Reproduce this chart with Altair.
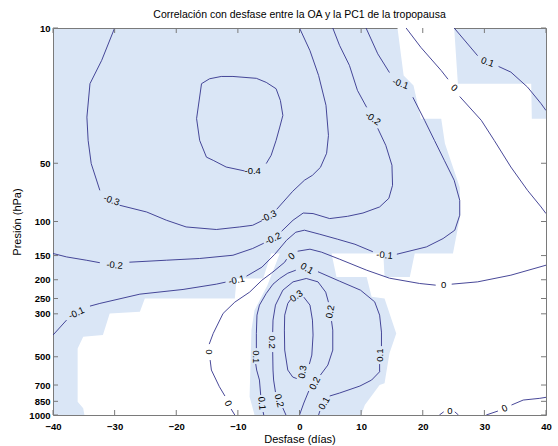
import altair as alt
import pandas as pd

# ---------------------------------------------------------------- axes
LAG_TICKS = [-40, -30, -20, -10, 0, 10, 20, 30, 40]
PRES_TICKS = [10, 50, 100, 150, 200, 250, 300, 500, 700, 850, 1000]

# ------------------------------------------- unshaded parts of the mask
# outlines as (lag in days, pressure in hPa)
WHITE_LOWER_LEFT = [(-25.1, 249.8), (-10.5, 249.8), (-10.2, 197.0), (-5.9, 197.0),
                    (-4.6, 146.3), (-3.2, 146.3), (-5.2, 213.3), (-7.3, 287.1),
                    (-7.8, 364.1), (-8.1, 804.5), (-7.3, 1000), (-34.9, 1000),
                    (-35.1, 923.5), (-36.0, 853.9), (-36.0, 452.7), (-35.1, 394.3),
                    (-31.9, 386.4), (-30.8, 298.6), (-25.9, 293.0)]
WHITE_RIGHT = [(15.9, 10), (16.9, 17.6), (18.5, 19.8), (19.7, 29.4), (23.0, 29.4),
               (23.6, 39.5), (26.0, 66.6), (26.1, 92.8), (24.9, 146.3), (18.7, 146.3),
               (17.9, 193.3), (13.8, 193.3), (13.6, 146.3), (5.2, 146.3), (6.0, 193.3),
               (10.9, 193.3), (11.7, 245.1), (13.8, 249.8), (15.7, 378.7), (14.6, 480.3),
               (13.8, 686.1), (13.0, 700.1), (10.6, 888.0), (10.0, 1000), (40, 1000),
               (40, 29.4), (37.7, 29.4), (37.6, 19.4), (25.7, 19.4), (25.1, 10)]

# ------------------------------------------------------ contour pieces
# each level: list of pieces (broken where the inline labels sit)
C_M04 = [[(-8.9, 54.8), (-11.9, 52.3), (-14.0, 48.3), (-15.1, 46.5), (-16.2, 38.1),
          (-16.7, 29.4), (-15.9, 19.4), (-14.6, 18.3), (-12.7, 17.8), (-10.8, 17.8),
          (-7.0, 18.2), (-5.4, 19.1), (-3.8, 20.6), (-3.1, 23.7), (-2.7, 28.3),
          (-3.2, 32.5), (-3.8, 38.1), (-4.6, 45.5), (-5.4, 50.2)]]
C_M03 = [[(-30.0, 10), (-32.1, 14.7), (-34.0, 19.4), (-34.5, 28.9), (-34.3, 38.1),
          (-33.8, 50.2), (-32.4, 69.0)],
         [(-29.2, 82.4), (-24.8, 89.3), (-21.6, 98.5), (-18.4, 106.7), (-13.5, 110.0),
          (-9.7, 106.7), (-7.6, 104.6), (-6.1, 99.1)],
         [(-3.7, 86.5), (-1.1, 69.8), (0.8, 61.2), (2.1, 57.7), (3.4, 52.5), (4.4, 44.4),
          (4.7, 35.9), (4.3, 25.1), (3.1, 17.6), (1.7, 13.1), (0.0, 10)]]
C_M02 = [[(-40.0, 146.3), (-37.8, 152.4), (-34.6, 158.5), (-32.4, 163.3)],
         [(-27.6, 162.3), (-21.6, 158.5), (-16.2, 155.3), (-10.8, 149.4), (-7.6, 137.9),
          (-5.8, 129.5)],
         [(-2.9, 112.3), (-1.05, 98.5), (0.6, 90.4), (2.2, 91.0), (4.9, 96.6), (7.8, 94.0),
          (10.3, 90.4), (13.0, 84.1), (14.5, 75.9), (15.1, 65.0), (15.0, 51.2),
          (14.0, 40.4), (12.7, 33.0)],
         [(10.9, 25.7), (9.4, 21.0), (8.1, 15.6), (6.5, 12.3), (5.4, 10)]]
C_M01 = [[(-40.0, 386.4), (-37.8, 323.3)],
         [(-34.0, 273.7), (-32.4, 265.1), (-25.9, 237.4), (-18.9, 224.5), (-13.5, 210.8),
          (-12.0, 205.8)],
         [(-8.6, 191.7), (-6.1, 172.2), (-4.0, 147.6), (-2.1, 125.0), (-0.6, 113.6),
          (0.8, 110.9), (3.3, 116.4), (6.2, 123.5), (9.0, 131.1), (11.9, 143.3)],
         [(15.8, 147.6), (20.6, 135.3), (23.3, 122.5), (25.2, 110.9), (26.0, 92.8),
          (26.0, 77.7), (25.1, 61.2), (23.5, 48.3), (21.9, 38.1), (20.3, 30.0),
          (18.4, 22.8)],
         [(14.6, 17.0), (12.7, 13.6), (10.8, 10)]]
C_00 = [[(17.3, 10), (19.7, 12.6), (23.0, 16.6), (24.1, 18.4)],
        [(26.0, 22.6), (29.5, 30.0), (31.6, 38.1), (34.3, 52.3), (37.0, 69.0),
         (39.2, 84.1), (40.0, 91.0)],
        [(40.0, 168.2), (34.3, 189.4), (28.9, 205.1), (24.7, 210.8)],
        [(22.1, 213.3), (19.5, 209.1), (14.6, 196.3), (10.9, 178.5), (6.5, 156.6),
         (3.6, 144.1), (1.7, 139.0), (-0.3, 142.4)],
        [(-2.1, 156.6), (-2.4, 162.3), (-4.3, 182.2), (-6.1, 201.1), (-8.1, 231.8),
         (-10.5, 261.1), (-12.4, 298.6), (-14.0, 378.7), (-14.65, 430.1)],
        [(-14.5, 520.1), (-14.3, 585.8), (-13.0, 714.3), (-12.1, 797.8)],
        [(-11.1, 931.2), (-10.5, 1000)],
        [(22.7, 1000), (23.4, 963)],
        [(25.2, 963), (25.8, 1000)],
        [(30.3, 1000), (32.2, 953.7)],
        [(34.4, 888.0), (36.3, 837.0), (39.0, 820.0), (40.0, 810.3)]]
C_01 = [[(25.1, 10), (27.3, 12.1), (28.9, 13.9)],
        [(32.3, 15.8), (34.3, 16.9), (37.0, 20.2), (39.2, 24.6), (40.0, 26.7)],
        [(-5.8, 1000), (-5.9, 965)],
        [(-6.3, 788.5), (-6.5, 659.8), (-6.95, 585.8), (-7.1, 545.6)],
        [(-7.0, 451.1), (-7.0, 378.7), (-6.9, 304.7), (-6.5, 270.5), (-5.4, 235.4),
         (-4.3, 210.8), (-3.2, 197.0), (-1.9, 185.0), (-0.6, 178.5)],
        [(3.0, 181.8), (6.5, 203.4), (9.9, 226.4), (12.2, 260.1), (13.0, 304.7),
         (13.3, 372.9), (13.3, 440.5)],
        [(13.0, 545.6), (13.0, 597.7), (11.7, 659.8), (9.8, 708.5), (6.5, 770.0),
         (4.9, 797.8)],
        [(3.3, 953.7), (3.1, 1000)]]
C_02 = [[(-2.2, 1000), (-2.7, 920.3)],
        [(-3.9, 760.9), (-4.2, 659.8), (-4.3, 585.8), (-4.35, 472.9)],
        [(-4.35, 372.9), (-4.3, 323.3), (-3.9, 270.5), (-2.7, 226.4), (-1.05, 205.1),
         (1.1, 197.0), (3.0, 205.1), (4.25, 231.8), (4.7, 261.1)],
        [(5.2, 327.1), (5.4, 364.1), (5.4, 461.8), (4.6, 552.0), (3.4, 621.6)],
        [(1.5, 751.9), (0.7, 867.2), (0.0, 1000)]]
C_03 = [[(0.7, 246.0), (1.7, 270.5), (2.1, 323.3), (2.2, 386.4), (2.0, 490.1),
         (1.6, 545.6)],
        [(-0.45, 648.1), (-1.1, 636.6), (-1.9, 585.8), (-2.4, 461.8), (-2.45, 364.1),
         (-2.4, 304.7), (-1.9, 265.1), (-1.4, 251.9)]]

# ------------------------------------------------------- inline labels
LABEL_TEXT = ["-0.4", "-0.3", "-0.3", "-0.2", "-0.2", "-0.2", "-0.1", "-0.1", "-0.1",
              "-0.1", "0", "0.1", "0", "0", "0", "0", "0.1", "0.1", "0.1", "0.1",
              "0.1", "0.2", "0.2", "0.2", "0.2", "0.3", "0.3", "0", "0"]
LABEL_LAG = [-7.6, -30.5, -5.0, -30.0, -4.3, 11.9, -36.2, -10.2, 13.8, 16.4, 25.1, 30.5,
             23.4, -1.3, -14.7, -11.6, -6.1, -7.1, 1.2, 13.1, 4.0, -3.3, -4.4, 5.0, 2.5,
             -0.5, 0.5, 24.4, 33.3]
LABEL_HPA = [55.0, 77.7, 94.0, 168.2, 122.5, 29.4, 297.5, 201.1, 149.4, 19.4, 20.4,
             15.0, 213.3, 151.1, 471.3, 870.2, 870.2, 500.1, 174.9, 490.1, 870.2, 843.7,
             420.0, 293.0, 686.1, 243.1, 599.9, 948.0, 925.6]
# text rotation of each label (degrees, clockwise)
LABEL_ROT = [0, 20, -25, 5, -25, 35, -25, -12, 5, 20, 40, 20, 0, -40, 90, 65, 85, 90,
             30, -90, -60, 75, 90, -80, -65, -35, -80, 0, -25]

# ------------------------------------------------------------- styles
FONT = "Liberation Sans"
SHADE = "#dae6f6"
LINE = "#33338c"
FRAME = "#7a7a7a"
W, H = 493, 387


def outline_rows(name, pts):
    return [{"poly": name, "i": i, "lag": a, "hpa": b} for i, (a, b) in enumerate(pts)]


def contour_rows(level, pieces):
    rows = []
    for k, piece in enumerate(pieces):
        for i, (a, b) in enumerate(piece):
            rows.append({"piece": f"{level}_{k}", "i": i, "lag": a, "hpa": b})
    return rows


white_df = pd.DataFrame(outline_rows("ll", WHITE_LOWER_LEFT) + outline_rows("r", WHITE_RIGHT))
contour_df = pd.DataFrame(
    contour_rows("m04", C_M04) + contour_rows("m03", C_M03) + contour_rows("m02", C_M02)
    + contour_rows("m01", C_M01) + contour_rows("p00", C_00) + contour_rows("p01", C_01)
    + contour_rows("p02", C_02) + contour_rows("p03", C_03))
label_df = pd.DataFrame({"txt": LABEL_TEXT, "lag": LABEL_LAG, "hpa": LABEL_HPA,
                         "rot": [r % 360 for r in LABEL_ROT]})
xtick_df = pd.DataFrame({"lag": LAG_TICKS})
ytick_df = pd.DataFrame({"hpa": PRES_TICKS})

X_SCALE = alt.Scale(domain=[-40, 40], nice=False, zero=False)
Y_SCALE = alt.Scale(type="log", domain=[10, 1000], nice=False, reverse=True)
X_AXIS = alt.Axis(values=LAG_TICKS, title="Desfase (días)", ticks=False, domain=False,
                  grid=False, labelFlush=False, labelOverlap=False, labelPadding=6,
                  labelFont=FONT, labelFontSize=9.5, labelFontWeight="bold",
                  labelColor="black", titleFont=FONT, titleFontSize=11,
                  titleFontWeight="normal", titleColor="black", titlePadding=3)
Y_AXIS = alt.Axis(values=PRES_TICKS, format="d", title="Presión (hPa)", ticks=False,
                  domain=False, grid=False, labelOverlap=False, labelPadding=3,
                  labelFont=FONT, labelFontSize=9.5, labelFontWeight="bold",
                  labelColor="black", titleFont=FONT, titleFontSize=11,
                  titleFontWeight="normal", titleColor="black", titlePadding=6)


def xe():
    return alt.X("lag:Q", scale=X_SCALE, axis=X_AXIS)


def ye():
    return alt.Y("hpa:Q", scale=Y_SCALE, axis=Y_AXIS)


white = alt.Chart(white_df).mark_line(filled=True, color="white", clip=True,
                                      strokeWidth=0).encode(
    x=xe(), y=ye(), detail="poly:N", order="i:Q")

lines = alt.Chart(contour_df).mark_line(color=LINE, strokeWidth=0.9, clip=True).encode(
    x=xe(), y=ye(), detail="piece:N", order="i:Q")

labels = alt.Chart(label_df).mark_text(font=FONT, fontSize=9.5, color="black",
                                       align="center", baseline="middle").encode(
    x=xe(), y=ye(), text="txt:N", angle=alt.Angle("rot:Q", scale=None))

tick_bottom = alt.Chart(xtick_df).mark_rule(color=FRAME, strokeWidth=1).encode(
    x=xe(), y=alt.value(H), y2=alt.value(H - 5))
tick_top = alt.Chart(xtick_df).mark_rule(color=FRAME, strokeWidth=1).encode(
    x=xe(), y=alt.value(0), y2=alt.value(5))
tick_left = alt.Chart(ytick_df).mark_rule(color=FRAME, strokeWidth=1).encode(
    y=ye(), x=alt.value(0), x2=alt.value(5))
tick_right = alt.Chart(ytick_df).mark_rule(color=FRAME, strokeWidth=1).encode(
    y=ye(), x=alt.value(W), x2=alt.value(W - 5))

chart = alt.layer(white, lines, labels, tick_bottom, tick_top, tick_left, tick_right).properties(
    width=W, height=H,
    autosize="none",
    background="white",
    padding={"left": 53, "top": 28, "right": 12, "bottom": 31},
    title=alt.Title("Correlación con desfase entre la OA y la PC1 de la tropopausa",
                    font=FONT, fontSize=10.5, fontWeight="normal", color="black",
                    anchor="middle", offset=3),
).configure_view(fill=SHADE, stroke=FRAME, strokeWidth=1)

chart.save("out.html", embed_options={"renderer": "svg", "actions": False})
